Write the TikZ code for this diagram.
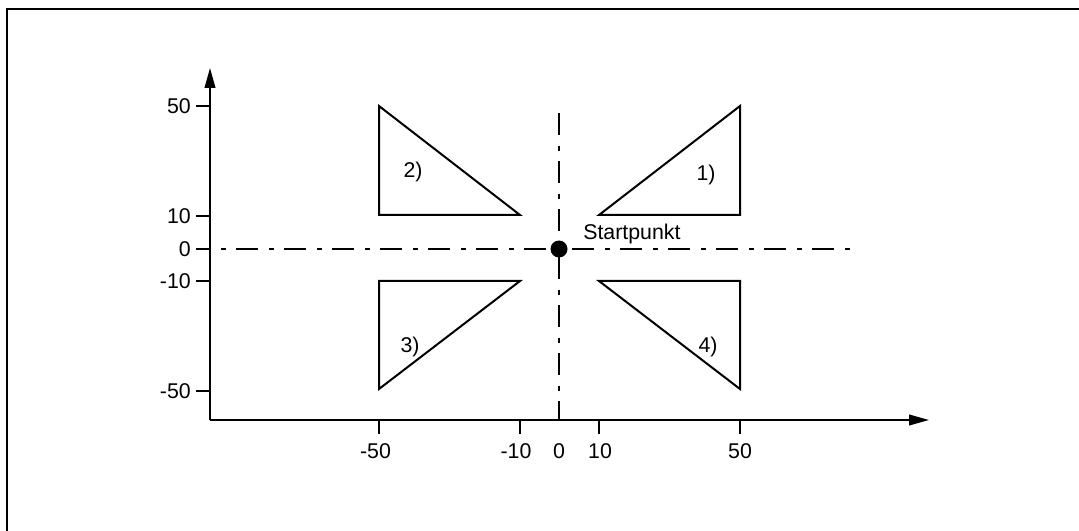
\documentclass[tikz,border=0pt]{standalone}
\usepackage{fontspec}
\setmainfont{Liberation Sans}
\usetikzlibrary{arrows.meta}
\begin{document}
\begin{tikzpicture}[x=0.75pt,y=-0.75pt,line join=miter,
  ln/.style={line width=1.5pt,draw=black},
  lbl/.style={font=\fontsize{16}{19}\selectfont,inner sep=0pt},
  dashdot/.style={line width=1.4pt,dash pattern=on 16.5pt off 8.25pt on 3.75pt off 7.5pt},
  axisarrow/.style={ln,-{Triangle[length=15pt,width=8pt]}}]
\useasboundingbox (0,0) rectangle (1079,531);
% frame
\draw[ln] (7,531) -- (7,9.5) -- (1079,9.5);
% axes
\coordinate (O) at (210,420);
\coordinate (ytip) at (210,68);
\coordinate (xtip) at (929,420);
% dash-dot lines
\coordinate (hl) at (210,249);
\coordinate (hr) at (851,249);
\coordinate (vt) at (559,113);
\coordinate (vb) at (559,420);
\draw[dashdot,dash phase=16.5pt] (hl) -- (hr);
\draw[dashdot] (vt) -- (vb);
\draw[axisarrow] (O) -- (ytip);
\draw[axisarrow] (O) -- (xtip);
% y ticks
\foreach \y/\t/\n in {106/50/a,216/10/b,249/0/c,281/-10/d,391/-50/e}{
  \coordinate (yt\n) at (196,\y);
  \coordinate (ya\n) at (210,\y);
  \draw[ln] (yt\n) -- (ya\n);
  \node[lbl,anchor=east] (yl\n) at (191,\y) {\t};
}
% x ticks
\foreach \x/\t/\d/\n in {379/-50/-3.5/a,520/-10/-4/b,599/10/1/d,740/50/0/e}{
  \coordinate (xa\n) at (\x,420);
  \coordinate (xt\n) at (\x,434);
  \draw[ln] (xa\n) -- (xt\n);
  \node[lbl,anchor=center] (xl\n) at (\x+\d,451) {\t};
}
\node[lbl,anchor=center] (xlc) at (559,451) {0};
% triangles
\draw[ln] (599,215) -- (740,106) -- (740,215) -- cycle;
\draw[ln] (379,106) -- (379,215) -- (520,215) -- cycle;
\draw[ln] (379,281) -- (520,281) -- (379,389) -- cycle;
\draw[ln] (599,281) -- (740,281) -- (740,389) -- cycle;
\node[lbl] (t1) at (706,175) {1)};
\node[lbl] (t2) at (413,172) {2)};
\node[lbl] (t3) at (410,347) {3)};
\node[lbl] (t4) at (708,347) {4)};
% start point
\node[circle,fill=black,minimum size=12.75pt,inner sep=0pt] (start) at (559,249) {};
\node[lbl,anchor=base west] (startlbl) at (583,240) {Startpunkt};
\end{tikzpicture}
\end{document}
